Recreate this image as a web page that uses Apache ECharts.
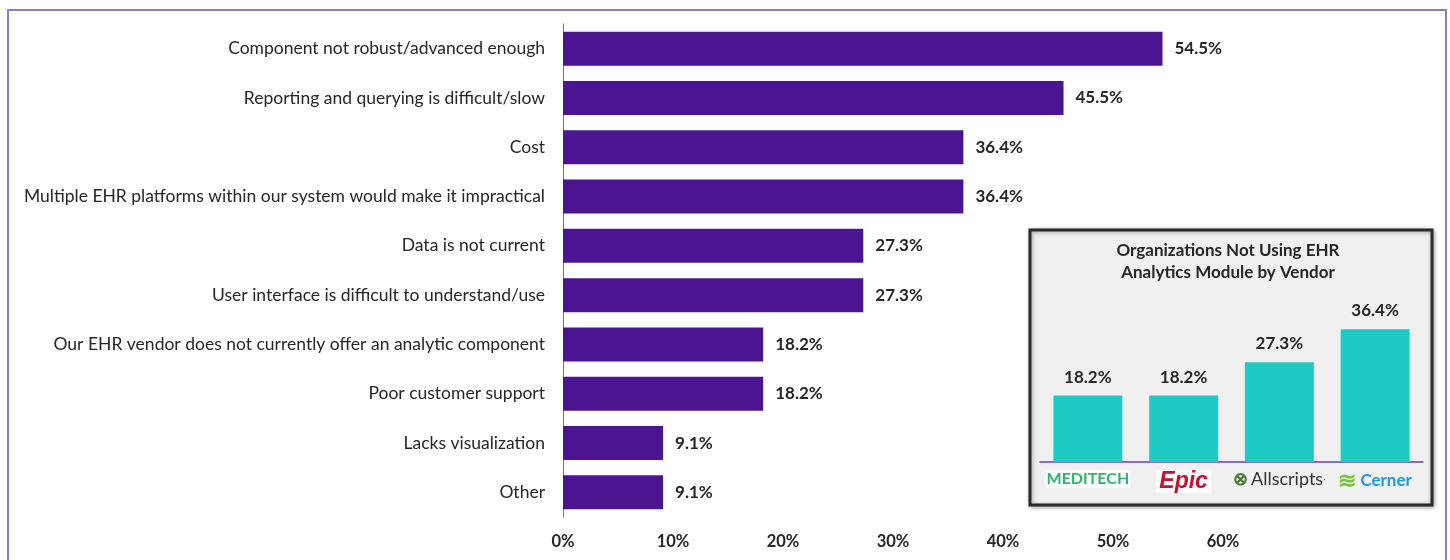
<!DOCTYPE html>
<html><head><meta charset="utf-8">
<script src="https://cdn.jsdelivr.net/npm/echarts@6/dist/echarts.min.js"></script>
<style>html,body{margin:0;padding:0;background:#fff}#c{width:1450px;height:560px}</style>
</head><body><div id="c"></div>
<script>
const categories = [
  "Component not robust/advanced enough",
  "Reporting and querying is difficult/slow",
  "Cost",
  "Multiple EHR platforms within our system would make it impractical",
  "Data is not current",
  "User interface is difficult to understand/use",
  "Our EHR vendor does not currently offer an analytic component",
  "Poor customer support",
  "Lacks visualization",
  "Other"
];
const values = [54.5, 45.5, 36.4, 36.4, 27.3, 27.3, 18.2, 18.2, 9.1, 9.1];
const xTicks = [0, 10, 20, 30, 40, 50, 60];
const insetTitle = "Organizations Not Using EHR\nAnalytics Module by Vendor";
const vendors = ["MEDITECH", "Epic", "Allscripts", "Cerner"];
const vendorValues = [18.2, 18.2, 27.3, 36.4];

const FONT = "Lato, 'Open Sans', sans-serif";
const chart = echarts.init(document.getElementById('c'));
chart.setOption({
  animation: false,
  textStyle: { fontFamily: FONT },
  graphic: [
    { type: 'rect', shape: { x: 8, y: 10, width: 1438, height: 600 }, style: { fill: 'none', stroke: '#8f7dc5', lineWidth: 2 }, z: -10 },
    { type: 'rect', shape: { x: 1030, y: 230, width: 402, height: 275 },
      style: { fill: '#f0f0f0', stroke: '#2a2a2a', lineWidth: 3, shadowBlur: 4, shadowColor: 'rgba(0,0,0,0.35)', shadowOffsetX: 1, shadowOffsetY: 1 }, z: 0 },
    { type: 'text', x: 1228, y: 240, z: 5,
      style: { text: insetTitle, fill: '#262626', font: "bold 17px " + FONT, align: 'center', textAlign: 'center', verticalAlign: 'top', lineHeight: 22 } }
  ],
  grid: [
    { left: 563, right: 227, top: 24, bottom: 43, containLabel: false },
    { left: 1040, right: 27, top: 316, height: 146, containLabel: false }
  ],
  xAxis: [
    { type: 'value', gridIndex: 0, min: 0, max: 60, interval: 10,
      axisLine: { show: false }, axisTick: { show: false }, splitLine: { show: false },
      axisLabel: { formatter: v => xTicks.includes(v) ? v + '%' : '', color: '#262626', fontSize: 16.5, fontWeight: 'bold', margin: 16 } },
    { type: 'category', gridIndex: 1, data: vendors,
      axisLine: { lineStyle: { color: '#6a3fb5', width: 1.5 } }, axisTick: { show: false },
      axisLabel: {
        interval: 0,
        margin: 8,
        formatter: v => {
          if (v === 'MEDITECH') return '{med|MEDITECH}';
          if (v === 'Epic') return '{epic|Epic}';
          if (v === 'Allscripts') return '{allsym|⊗}{all|Allscripts}{tm|·}';
          return '{cersym|≋}{cer|Cerner}';
        },
        rich: {
          med: { color: '#2fb56e', fontSize: 16, fontWeight: 'bold', fontFamily: FONT, backgroundColor: '#fff', padding: [1, 1] },
          epic: { color: '#c4122f', fontSize: 23, fontWeight: 'bold', fontStyle: 'italic', fontFamily: 'Liberation Sans, sans-serif', backgroundColor: '#fff', padding: [0, 3] },
          allsym: { color: '#4a7a3a', fontSize: 18, fontWeight: 'bold', padding: [0, 3, 0, 0] },
          all: { color: '#333', fontSize: 18, fontFamily: FONT },
          tm: { color: '#666', fontSize: 10 },
          cersym: { color: '#7cc242', fontSize: 22, fontWeight: 'bold', padding: [0, 4, 0, 0] },
          cer: { color: '#1f9ad6', fontSize: 17, fontWeight: 'bold', fontFamily: FONT }
        }
      } }
  ],
  yAxis: [
    { type: 'category', gridIndex: 0, data: categories, inverse: true,
      axisLine: { lineStyle: { color: '#7d63c4', width: 1 } }, axisTick: { show: false },
      axisLabel: { color: '#262626', fontSize: 17.5, margin: 18 } },
    { type: 'value', gridIndex: 1, min: 0, max: 40, show: false, splitLine: { show: false } }
  ],
  series: [
    { type: 'bar', xAxisIndex: 0, yAxisIndex: 0, data: values, barCategoryGap: '31%',
      itemStyle: { color: '#4b1592' },
      label: { show: true, position: 'right', distance: 12, formatter: p => p.value.toFixed(1) + '%', color: '#262626', fontSize: 17, fontWeight: 'bold' } },
    { type: 'bar', xAxisIndex: 1, yAxisIndex: 1, data: vendorValues, barCategoryGap: '28%', z: 3,
      itemStyle: { color: '#1ecbc4' },
      label: { show: true, position: 'top', distance: 10, formatter: p => p.value.toFixed(1) + '%', color: '#262626', fontSize: 17, fontWeight: 'bold' } }
  ]
});
</script></body></html>
